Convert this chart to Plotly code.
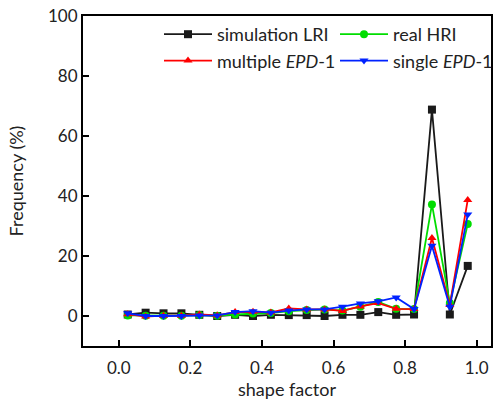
import plotly.graph_objects as go

shape_factor = [0.025, 0.075, 0.125, 0.175, 0.225, 0.275, 0.325, 0.375, 0.425, 0.475,
                0.525, 0.575, 0.625, 0.675, 0.725, 0.775, 0.825, 0.875, 0.925, 0.975]

sim_lri = [0.5, 1.1, 0.9, 0.9, 0.4, 0.0, 0.4, 0.0, 0.4, 0.3,
           0.3, 0.0, 0.4, 0.4, 1.3, 0.4, 0.5, 68.8, 0.5, 16.7]
real_hri = [0.2, 0.1, 0.1, 0.1, 0.3, 0.1, 0.5, 0.8, 1.0, 1.6,
            2.0, 2.2, 1.8, 3.1, 4.7, 2.4, 2.3, 37.2, 4.3, 30.7]
multi_epd = [0.6, -0.2, 0.1, 0.1, 0.5, 0.2, 1.3, 1.4, 1.2, 2.5,
             2.2, 2.2, 1.7, 3.2, 4.3, 2.4, 2.3, 26.0, 3.7, 38.7]
single_epd = [0.9, 0.0, 0.0, 0.0, 0.2, 0.2, 1.3, 1.6, 1.1, 1.8,
              2.2, 2.2, 3.1, 4.2, 4.9, 6.2, 2.3, 23.4, 3.1, 33.8]

series = [
    ("simulation LRI", sim_lri, "#1a1a1a", "square", "legend"),
    ("real HRI", real_hri, "#00dd00", "circle", "legend2"),
    ("multiple <i>EPD</i>-1", multi_epd, "#ff0000", "triangle-up", "legend"),
    ("single <i>EPD</i>-1", single_epd, "#0022ff", "triangle-down", "legend2"),
]

FONT = "Lato"
fig = go.Figure()
for name, vals, color, sym, lg in series:
    fig.add_trace(go.Scatter(
        x=shape_factor, y=vals, mode="lines+markers", name=name,
        line=dict(color=color, width=1.8),
        marker=dict(symbol=sym, size=8, color=color),
        legend=lg,
    ))

leg_common = dict(font=dict(family=FONT, size=18, color="#222"), bgcolor="rgba(0,0,0,0)",
                  itemwidth=48, tracegroupgap=0, orientation="v",
                  xanchor="left", yanchor="top")
fig.update_layout(
    width=494, height=406,
    margin=dict(l=83, r=3, t=16, b=60, autoexpand=False),
    plot_bgcolor="white", paper_bgcolor="white",
    font=dict(family=FONT, size=17, color="#222"),
    legend=dict(x=(159 - 83) / 408, y=1 - (16 - 16) / 330, **leg_common),
    legend2=dict(x=(335 - 83) / 408, y=1 - (16 - 16) / 330, **leg_common),
    xaxis=dict(
        range=[-0.1, 1.04], tickvals=[0.0, 0.2, 0.4, 0.6, 0.8, 1.0],
        ticktext=["0.0", "0.2", "0.4", "0.6", "0.8", "1.0"],
        ticks="inside", ticklen=6, tickwidth=2, tickcolor="black",
        showline=True, linewidth=2, linecolor="black", mirror=True,
        showgrid=False, zeroline=False, ticklabelstandoff=6,
        title=dict(text="shape factor", font=dict(family=FONT, size=18), standoff=2),
        tickfont=dict(family=FONT, size=17),
    ),
    yaxis=dict(
        range=[-10, 100], tickvals=[0, 20, 40, 60, 80, 100],
        ticks="inside", ticklen=6, tickwidth=2, tickcolor="black",
        showline=True, linewidth=2, linecolor="black", mirror=True,
        showgrid=False, zeroline=False,
        title=dict(text="Frequency (%)", font=dict(family=FONT, size=18), standoff=20),
        tickfont=dict(family=FONT, size=17),
    ),
)
fig.write_html("out.html")
